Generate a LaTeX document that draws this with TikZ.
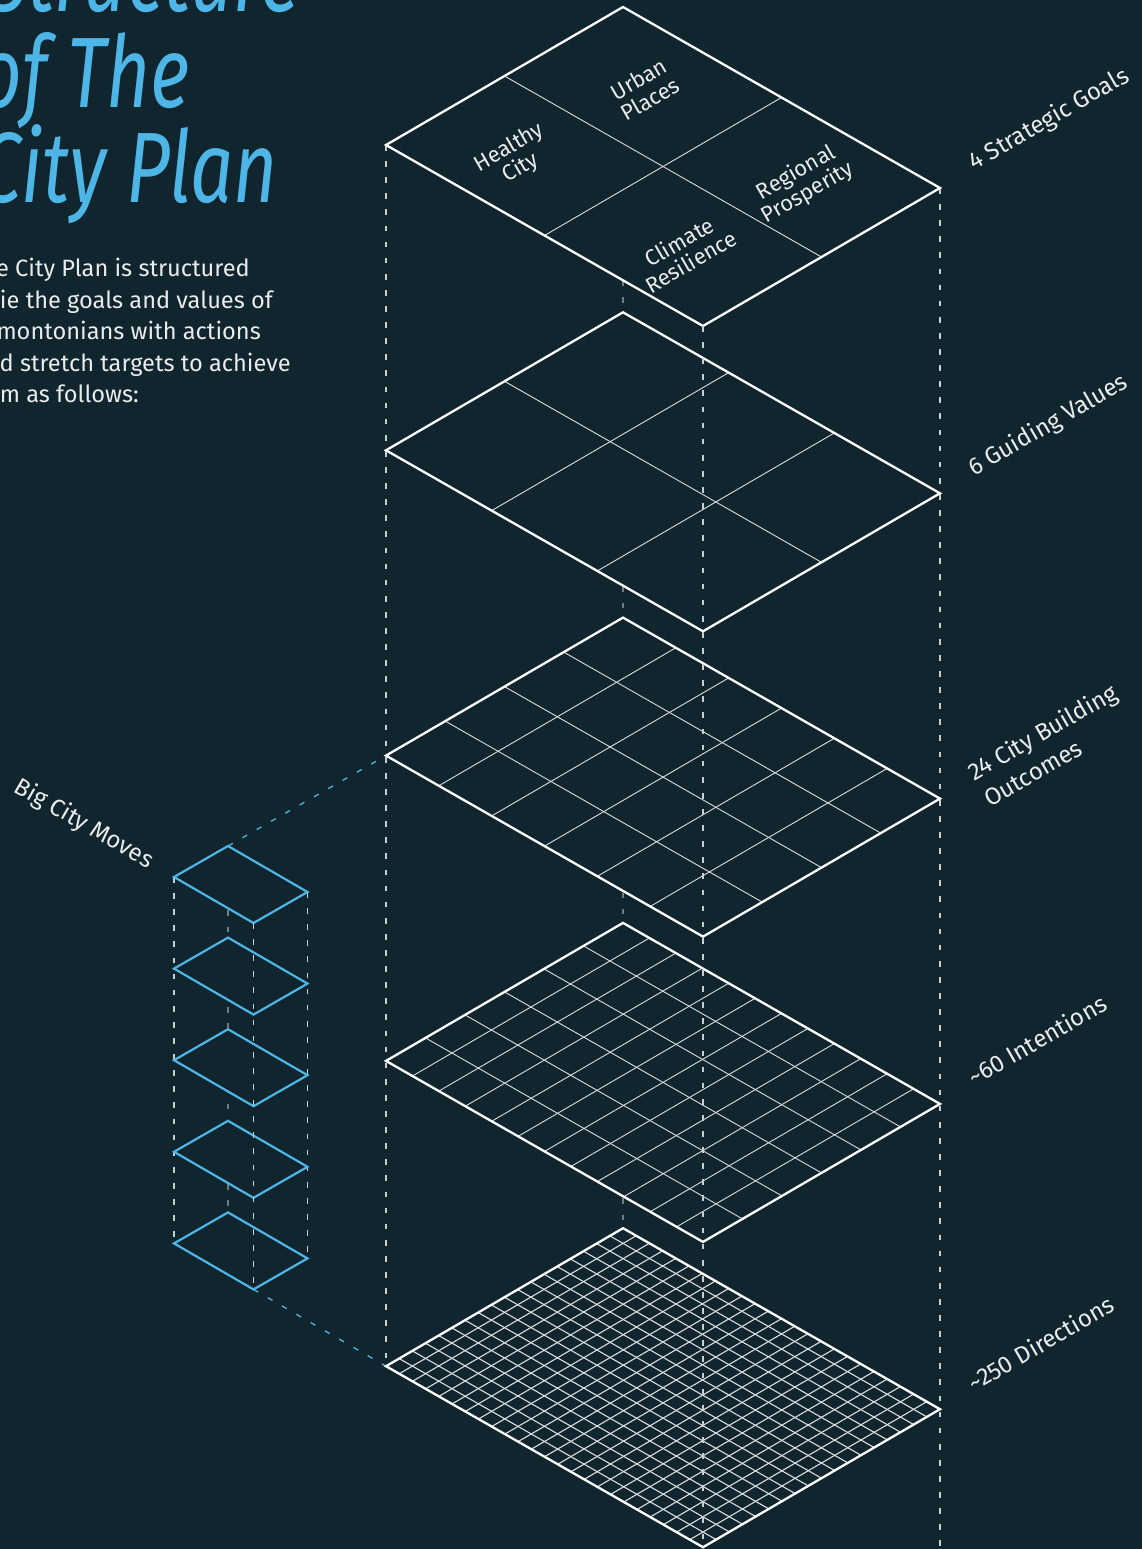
\documentclass[tikz,border=0pt]{standalone}
\usepackage{fontspec}
\setmainfont{Fira Sans}
\IfFontExistsTF{FiraSans-ExtraLightItalic.otf}
  {\newfontfamily\mytitlefont{FiraSans-ExtraLightItalic.otf}}
  {\IfFontExistsTF{FiraSans-LightItalic.otf}
    {\newfontfamily\mytitlefont{FiraSans-LightItalic.otf}}
    {\newcommand\mytitlefont{\itshape}}}
\IfFontExistsTF{FiraSans-Light.otf}
  {\newfontfamily\mylightfont{FiraSans-Light.otf}}
  {\newcommand\mylightfont{\rmfamily}}
\usetikzlibrary{calc}
\definecolor{bgc}{HTML}{11252E}
\definecolor{skyb}{HTML}{4DB6E6}
\definecolor{dashc}{HTML}{C9CED0}
\definecolor{hidc}{HTML}{6F7C82}
\definecolor{txtc}{HTML}{E9ECEC}
\definecolor{gridc}{HTML}{DADDDE}
\newcommand\narrowtitle[1]{\scalebox{0.76}[1]{#1}}
\tikzset{
  plate/.style={draw=white, line width=2.3pt, line join=miter},
  bplate/.style={draw=skyb, line width=2.2pt, line join=miter},
  gridln/.style={draw=gridc, line width=0.9pt},
  vdash/.style={draw=dashc, line width=1.3pt, dash pattern=on 5.7pt off 10.4pt},
  hdash/.style={draw=hidc, line width=1.3pt, dash pattern=on 5.7pt off 10.4pt},
  bdash/.style={draw=skyb, line width=1.3pt, dash pattern=on 5.5pt off 11pt},
  ttl/.style={text=skyb, font=\mytitlefont\fontsize{100}{95}\selectfont, inner sep=0pt},
  bodytxt/.style={text=txtc, font=\fontsize{23.6}{31}\selectfont, inner sep=0pt},
  lbl/.style={text=txtc, font=\mylightfont\fontsize{24}{26}\selectfont, inner sep=0pt},
  inlbl/.style={text=txtc, font=\mylightfont\fontsize{22}{23}\selectfont, inner sep=0pt, align=center}
}
\begin{document}
\begin{tikzpicture}[x=1pt,y=-1pt]
\useasboundingbox (0,0) rectangle (1142,1549);
\fill[bgc] (0,0) rectangle (1142,1549);

% coordinates of the big layers
\foreach \k in {0,...,4} {
  \pgfmathsetmacro\dy{305.3*\k}
  \coordinate (L\k) at (386,145+\dy);
  \coordinate (T\k) at (623,7+\dy);
  \coordinate (R\k) at (940,188+\dy);
  \coordinate (B\k) at (703,326+\dy);
}
\coordinate (Rbot) at (940,1549);
% coordinates of the small stack
\foreach \s in {0,...,4} {
  \pgfmathsetmacro\sy{91.6*\s}
  \coordinate (sL\s) at (174,877+\sy);
  \coordinate (sT\s) at (228,846+\sy);
  \coordinate (sR\s) at (307.5,892+\sy);
  \coordinate (sB\s) at (253.5,923+\sy);
}

% hidden (back) vertical lines
\draw[hdash] (T0) -- (T4);
\draw[hdash] (sT0) -- (sT4);
% side vertical lines
\draw[vdash] (L0) -- (L4);
\draw[vdash] (R0) -- (Rbot);
\draw[vdash] (sL0) -- (sL4);
\draw[vdash] (sR0) -- (sR4);
% blue connectors
\draw[bdash] (sT0) -- (L2);
\draw[bdash] (sB4) -- (L4);

% big layers
\foreach \k/\m/\n/\w in {0/2/2/0.9,1/2/3/0.9,2/4/6/0.9,3/6/12/0.9,4/18/24/1.1} {
  \fill[bgc] (L\k) -- (T\k) -- (R\k) -- (B\k) -- cycle;
  \pgfmathtruncatemacro\mm{\m-1}
  \pgfmathtruncatemacro\nn{\n-1}
  \foreach \i in {1,...,\mm}
    \draw[gridln, line width=\w pt] ($(L\k)!\i/\m!(T\k)$) -- ($(B\k)!\i/\m!(R\k)$);
  \foreach \j in {1,...,\nn}
    \draw[gridln, line width=\w pt] ($(L\k)!\j/\n!(B\k)$) -- ($(T\k)!\j/\n!(R\k)$);
  \draw[plate] (L\k) -- (T\k) -- (R\k) -- (B\k) -- cycle;
}
% small blue stack
\foreach \s in {0,...,4} {
  \fill[bgc] (sL\s) -- (sT\s) -- (sR\s) -- (sB\s) -- cycle;
  \draw[bplate] (sL\s) -- (sT\s) -- (sR\s) -- (sB\s) -- cycle;
}
% front vertical lines
\draw[vdash] (B0) -- (B4);
\draw[vdash] (sB0) -- (sB4);

% labels inside the top plate
\node[inlbl, rotate=30] (hc) at (515,158) {Healthy\\City};
\node[inlbl, rotate=30] (up) at (644.5,89) {Urban\\Places};
\node[inlbl, rotate=30] (rp) at (802,183) {Regional\\Prosperity};
\node[inlbl, rotate=30] (cr) at (685,251.5) {Climate\\Resilience};

% labels on the right
\node[lbl, rotate=30, anchor=base west] (g1) at (974,171) {4 Strategic Goals};
\node[lbl, rotate=30, anchor=base west] (g2) at (974,476.3) {6 Guiding Values};
\node[lbl, rotate=30, anchor=base west] (g3) at (974,781.6) {24 City Building};
\node[lbl, rotate=30, anchor=base west] (g3b) at (990,808) {Outcomes};
\node[lbl, rotate=30, anchor=base west] (g4) at (974,1086.9) {\textasciitilde60 Intentions};
\node[lbl, rotate=30, anchor=base west] (g5) at (974,1392.2) {\textasciitilde250 Directions};
\node[lbl, rotate=-30, anchor=base east] (bcm) at (148,869) {Big City Moves};

% title
\node[ttl, anchor=base east] (t1) at (300,12) {\narrowtitle{Structure}};
\node[ttl, anchor=base east] (t2) at (190,108) {\narrowtitle{of The}};
\node[ttl, anchor=base east] (t3) at (278,202) {\narrowtitle{City Plan}};

% body text
\node[bodytxt, anchor=base east] (b1) at (250,276.5) {The City Plan is structured};
\node[bodytxt, anchor=base east] (b2) at (273,308) {to tie the goals and values of};
\node[bodytxt, anchor=base east] (b3) at (261,339.5) {Edmontonians with actions};
\node[bodytxt, anchor=base east] (b4) at (291,371) {and stretch targets to achieve};
\node[bodytxt, anchor=base east] (b5) at (139,402.5) {them as follows:};
\end{tikzpicture}
\end{document}
